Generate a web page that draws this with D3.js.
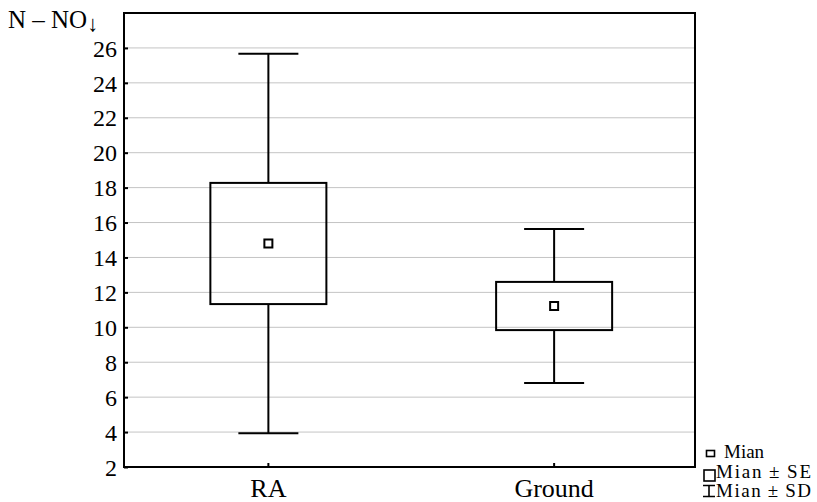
<!DOCTYPE html>
<html><head><meta charset="utf-8">
<script src="https://cdn.jsdelivr.net/npm/d3@7"></script>
<style>body{margin:0;background:#fff}svg text{font-family:"Liberation Serif","Times New Roman",serif !important;fill:#000}</style>
</head><body><svg id="c" width="817" height="502"></svg>
<script>
const categories = ["RA", "Ground"];
const means = [14.8, 11.22];
const se = [3.47, 1.38];
const sd = [10.87, 4.41];
const yTicks = [2, 4, 6, 8, 10, 12, 14, 16, 18, 20, 22, 24, 26];
const yLabel = "N – NO";
const legendItems = ["Mian", "Mian\u2009±\u2009SE", "Mian\u2009±\u2009SD"];

const SERIF = '"Liberation Serif", serif';
const svg = d3.select("#c");
const L = 124, R = 695, T = 13, B = 467;
const y = d3.scaleLinear().domain([2, 28]).range([B, T]);
const x = d3.scaleBand().domain(categories).range([L + 1.5, R + 2]);
const cx = c => x(c) + x.bandwidth() / 2;

// grid
svg.append("g").selectAll("line").data(yTicks.filter(t => t > 2)).join("line")
  .attr("x1", L).attr("x2", R).attr("y1", d => y(d)).attr("y2", d => y(d))
  .attr("stroke", "#c4c4c4").attr("stroke-width", 1);

// axes
const ya = svg.append("g").attr("transform", `translate(${L},0)`)
  .call(d3.axisRight(y).tickValues(yTicks).tickSize(4).tickFormat(d3.format("d")))
  .attr("font-family", SERIF).attr("font-size", 24);
ya.select(".domain").remove();
ya.selectAll("line").attr("stroke", "#000").attr("stroke-width", 2);
ya.selectAll("text").attr("x", -7).attr("text-anchor", "end").attr("dy", "0.34em");

const xa = svg.append("g").attr("transform", `translate(0,${B})`)
  .call(d3.axisTop(x).tickSize(4))
  .attr("font-family", SERIF).attr("font-size", 26);
xa.select(".domain").remove();
xa.selectAll("line").attr("stroke", "#000").attr("stroke-width", 2);
xa.selectAll("text").attr("y", 30).attr("dy", 0);

// frame
svg.append("rect").attr("x", L).attr("y", T).attr("width", R - L).attr("height", B - T)
  .attr("fill", "none").attr("stroke", "#000").attr("stroke-width", 2);

// boxes
const bw = x.bandwidth() * 0.406, cw = x.bandwidth() * 0.21;
const g = svg.append("g").selectAll("g").data(categories).join("g");
g.append("line").attr("x1", cx).attr("x2", cx)
  .attr("y1", (d, i) => y(means[i] + sd[i])).attr("y2", (d, i) => y(means[i] + se[i]))
  .attr("stroke", "#000").attr("stroke-width", 2);
g.append("line").attr("x1", cx).attr("x2", cx)
  .attr("y1", (d, i) => y(means[i] - se[i])).attr("y2", (d, i) => y(means[i] - sd[i]))
  .attr("stroke", "#000").attr("stroke-width", 2);
[1, -1].forEach(s => {
  g.append("line").attr("x1", d => cx(d) - cw / 2).attr("x2", d => cx(d) + cw / 2)
    .attr("y1", (d, i) => y(means[i] + s * sd[i])).attr("y2", (d, i) => y(means[i] + s * sd[i]))
    .attr("stroke", "#000").attr("stroke-width", 2);
});
g.append("rect").attr("x", d => cx(d) - bw / 2).attr("width", bw)
  .attr("y", (d, i) => y(means[i] + se[i])).attr("height", (d, i) => y(means[i] - se[i]) - y(means[i] + se[i]))
  .attr("fill", "none").attr("stroke", "#000").attr("stroke-width", 2);
g.append("rect").attr("x", d => cx(d) - 4).attr("width", 8)
  .attr("y", (d, i) => y(means[i]) - 4).attr("height", 8)
  .attr("fill", "#fff").attr("stroke", "#000").attr("stroke-width", 2);

// y label
const yl = svg.append("text").attr("x", 8).attr("y", 28).style("font-size", "25px");
yl.append("tspan").text(yLabel);
yl.append("tspan").text("↓").style("font-size", "22px").attr("dy", 3);

// legend
const lg = svg.append("g");
lg.append("rect").attr("x", 706.5).attr("y", 450.5).attr("width", 8).attr("height", 6)
  .attr("fill", "none").attr("stroke", "#000").attr("stroke-width", 1.6);
lg.append("rect").attr("x", 704).attr("y", 470).attr("width", 11).attr("height", 11)
  .attr("fill", "none").attr("stroke", "#000").attr("stroke-width", 1.6);
lg.append("path").attr("d", "M703,485.5H715M709,485.5V496.5M703,496.5H715")
  .attr("fill", "none").attr("stroke", "#000").attr("stroke-width", 1.6);
lg.selectAll("text.l").data(legendItems).join("text").attr("class", "l")
  .attr("x", (d, i) => i === 0 ? 724 : 716).attr("y", (d, i) => 458 + i * 19.5)
  .attr("textLength", (d, i) => i === 0 ? null : 95).attr("lengthAdjust", "spacing")
  .style("font-size", "19px").text(d => d);
</script></body></html>
